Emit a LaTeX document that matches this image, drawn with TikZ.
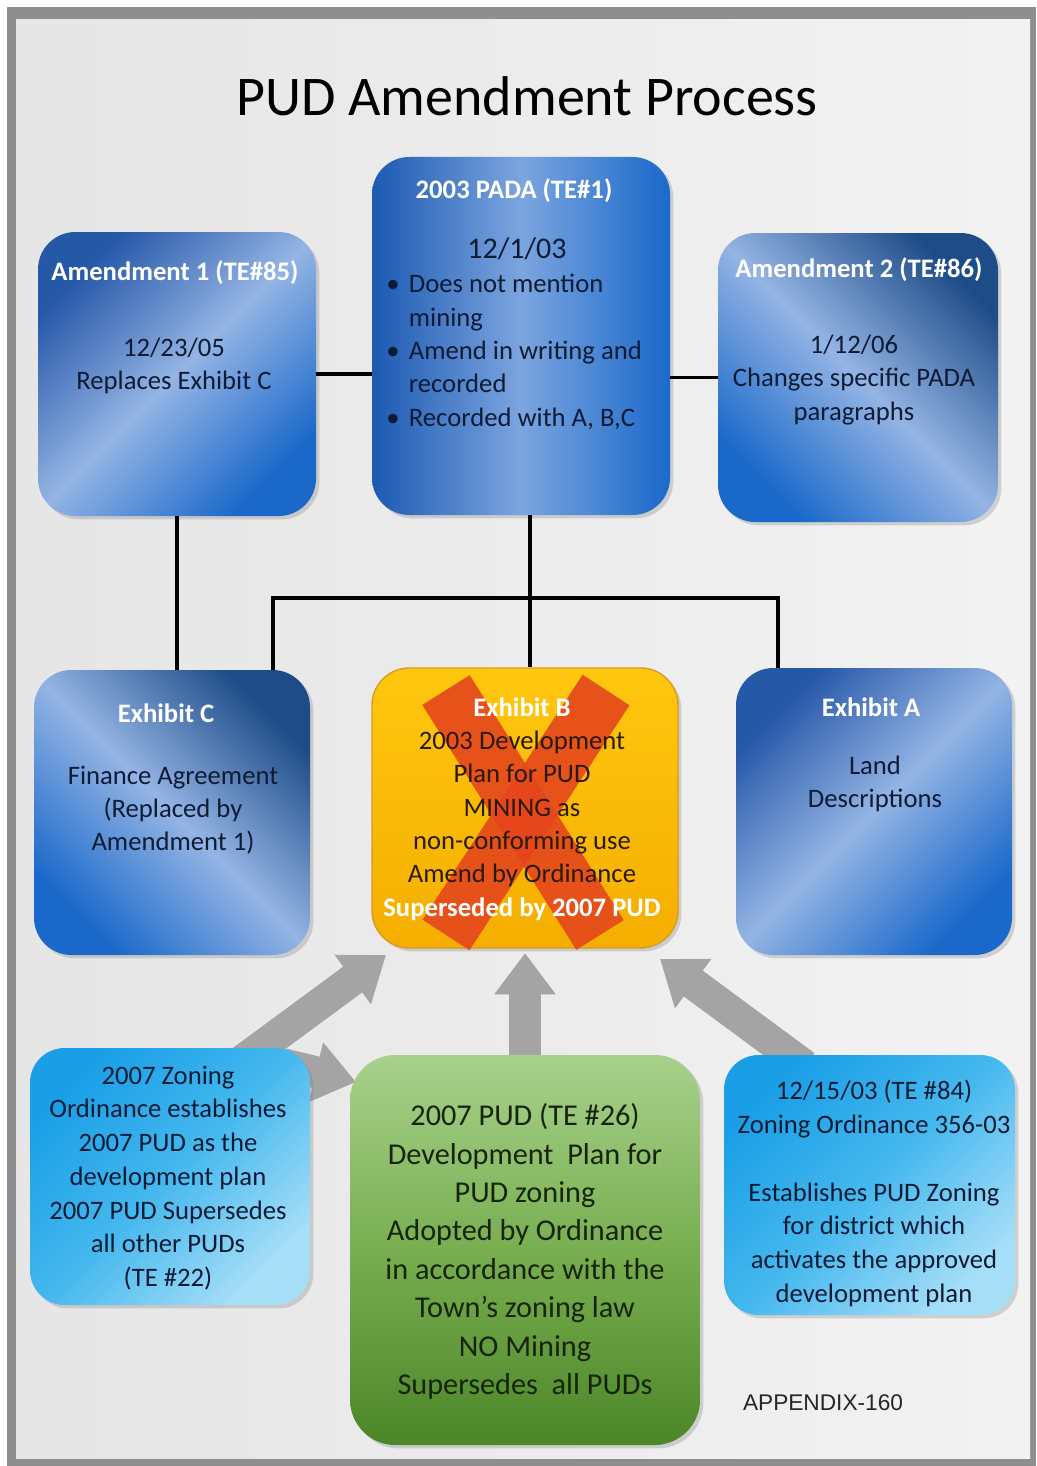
\documentclass[tikz,border=0pt]{standalone}
\usepackage{fontspec}
\setmainfont{Carlito}
\newfontfamily\arialfont{Liberation Sans}
\usetikzlibrary{arrows.meta,shadows}
\definecolor{navytext}{HTML}{0E1B35}
\definecolor{browntext}{HTML}{2A1A0C}
\definecolor{greentext}{HTML}{16240C}
\definecolor{framegray}{HTML}{8E8E8E}
\definecolor{arrowgray}{HTML}{A4A4A4}
\definecolor{bdark}{HTML}{2658A8}
\definecolor{blight}{HTML}{94B4E4}
\definecolor{bmid}{HTML}{1A69CA}
\definecolor{bnavy}{HTML}{1E4C88}
\definecolor{cdark}{HTML}{1A9FE6}
\definecolor{clight}{HTML}{A6DEF7}
\definecolor{cmid}{HTML}{45B8EE}
\definecolor{redx}{HTML}{E5461C}
\definecolor{HTML1}{HTML}{1C59B2}
\definecolor{green1}{HTML}{A8D18C}
\definecolor{green2}{HTML}{78AE50}
\definecolor{green3}{HTML}{4C8629}
\definecolor{yel1}{HTML}{FFC70F}
\definecolor{yel2}{HTML}{F4AE00}
\definecolor{yel3}{HTML}{D99A20}
\pgfdeclarelayer{bg}
\pgfdeclarelayer{arr}
\pgfsetlayers{bg,arr,main}
\tikzset{
  box/.style={rectangle, rounded corners=28pt, inner sep=0pt,
    drop shadow={opacity=0.3, shadow xshift=2.5pt, shadow yshift=-2.5pt}},
  blueA/.style={box, left color=bdark, right color=bmid, middle color=blight, shading angle=45},
  blueB/.style={box, left color=bnavy, right color=bmid, middle color=blight, shading angle=-45},
  bluePADA/.style={box, left color=HTML1, right color=bmid, middle color=blight!80!bmid, shading angle=90},
  cyanbox/.style={box, rounded corners=26pt, left color=cdark, right color=clight, middle color=cmid, shading angle=45},
  greenbox/.style={box, rounded corners=34pt, top color=green1, bottom color=green3, middle color=green2},
  yellowbox/.style={box, top color=yel1, bottom color=yel2, draw=yel3, line width=1pt},
  hdr/.style={font=\fontsize{20}{25}\selectfont\bfseries, text=white, align=center, inner sep=0pt},
  body/.style={font=\fontsize{20}{25}\selectfont, text=navytext, align=center, inner sep=0pt},
  conn/.style={draw=black, line width=2.7pt},
  garrow/.style={draw=arrowgray, line width=24pt, -{Triangle[width=44pt,length=31pt]}},
}
\begin{document}
\begin{tikzpicture}[x=0.75pt,y=-0.75pt]
\useasboundingbox (0,0) rectangle (1036,1466);
\begin{pgfonlayer}{bg}
  \fill[white] (0,0) rectangle (1036,1466);
  \fill[framegray] (7,7) rectangle (1036,1466);
  \shade[left color=black!10, right color=black!5] (16,20) rectangle (1030,1458);
\end{pgfonlayer}

% title
\node[font=\fontsize{42}{50}\selectfont, text=black, inner sep=0pt] (title) at (527,96) {PUD Amendment Process};

% boxes
\node[blueA, minimum width=208.5pt, minimum height=213pt] (am1) at (177,374) {};
\node[bluePADA, minimum width=223.5pt, minimum height=268.5pt] (pada) at (521,336) {};
\node[blueB, minimum width=210pt, minimum height=216.75pt] (am2) at (858,377.5) {};
\node[blueB, minimum width=207pt, minimum height=213.75pt] (exc) at (172,812.5) {};
\node[yellowbox, minimum width=229.5pt, minimum height=210pt] (exb) at (525,808) {};
\node[blueA, minimum width=207pt, minimum height=215.25pt] (exa) at (874,811.5) {};
\node[cyanbox, minimum width=210pt, minimum height=192.75pt] (zon) at (170,1176.5) {};
\node[greenbox, minimum width=262.5pt, minimum height=292.5pt] (pud) at (525,1250) {};
\node[cyanbox, minimum width=218.25pt, minimum height=195pt] (z03) at (869.5,1185) {};

% red X over Exhibit B
\draw[redx, opacity=0.9, line width=42pt] (446,690) -- (600,935);
\draw[redx, opacity=0.9, line width=42pt] (606,690) -- (446,935);

% texts
\node[hdr] (am1h) at (175,273) {Amendment 1 (TE\#85)};
\node[body] (am1b) at (174,366) {12/23/05\\Replaces Exhibit C};

\node[hdr] (padah) at (514,191) {2003 PADA (TE\#1)};
\node[body, font=\fontsize{22.5}{28}\selectfont] (padad) at (517,249) {12/1/03};
\node[body, align=left, anchor=west] (padal) at (386,352)
  {\makebox[17pt][l]{•}Does not mention\\\hspace*{17pt}mining\\
   \makebox[17pt][l]{•}Amend in writing and\\\hspace*{17pt}recorded\\
   \makebox[17pt][l]{•}Recorded with A, B,C};

\node[hdr] (am2h) at (859,270) {Amendment 2 (TE\#86)};
\node[body] (am2b) at (854,380) {1/12/06\\Changes specific PADA\\paragraphs};

\node[hdr] (exch) at (166,713) {Exhibit C};
\node[body] (excb) at (173,810) {Finance Agreement\\(Replaced by\\Amendment 1)};

\node[body, text=browntext] (exbt) at (522,809)
  {{\color{white}\bfseries Exhibit B}\\2003 Development\\Plan for PUD\\MINING as\\non-conforming use\\Amend by Ordinance\\{\color{white}\bfseries Superseded by 2007 PUD}};

\node[hdr] (exah) at (871,707) {Exhibit A};
\node[body] (exab) at (875,784) {Land\\Descriptions};

\node[body, font=\fontsize{20}{25.3}\selectfont] (zont) at (168,1178)
  {2007 Zoning\\Ordinance establishes\\2007 PUD as the\\development plan\\2007 PUD Supersedes\\all other PUDs\\(TE \#22)};

\node[body, text=greentext, font=\fontsize{22.7}{28.8}\selectfont] (pudt) at (525,1251.5)
  {2007 PUD (TE \#26)\\Development\ \ Plan for\\PUD zoning\\Adopted by Ordinance\\in accordance with the\\Town’s zoning law\\NO Mining\\Supersedes\ \ all PUDs};

\node[body, font=\fontsize{20}{25.4}\selectfont] (z03t) at (874,1193.5)
  {12/15/03 (TE \#84)\\Zoning Ordinance 356-03\\[25.4pt]Establishes PUD Zoning\\for district which\\activates the approved\\development plan};

\node[font=\arialfont\fontsize{17}{20}\selectfont, text=black!85, inner sep=0pt] (app) at (823,1403) {APPENDIX-160};

% connectors
\draw[conn] (am1.east) -- (am1.east -| pada.west);
\draw[conn] (am2.west -| pada.east) -- (am2.west);
\draw[conn] (am1.south) -- (am1.south |- exc.north);
\coordinate (jc) at (530,598);
\coordinate (jl) at (273,598);
\coordinate (jr) at (778,598);
\draw[conn] (pada.south -| jc) -- (exb.north -| jc);
\draw[conn] (exc.north -| jl) -- (jl) -- (jr) -- (exa.north -| jr);

% gray block arrows
\coordinate (la1) at (238,1064);
\coordinate (la2) at (386,955);
\coordinate (ma1) at (525,1070);
\coordinate (ma2) at (525,953);
\coordinate (ra1) at (805,1066);
\coordinate (ra2) at (660,959);
\coordinate (sa1) at (282,1064);
\coordinate (sa2) at (356,1082);
\begin{pgfonlayer}{arr}
  \draw[garrow] (la1) -- (la2);
  \draw[garrow] (ma1) -- (ma2);
  \draw[garrow] (ra1) -- (ra2);
  \draw[garrow] (sa1) -- (sa2);
\end{pgfonlayer}
\end{tikzpicture}
\end{document}
